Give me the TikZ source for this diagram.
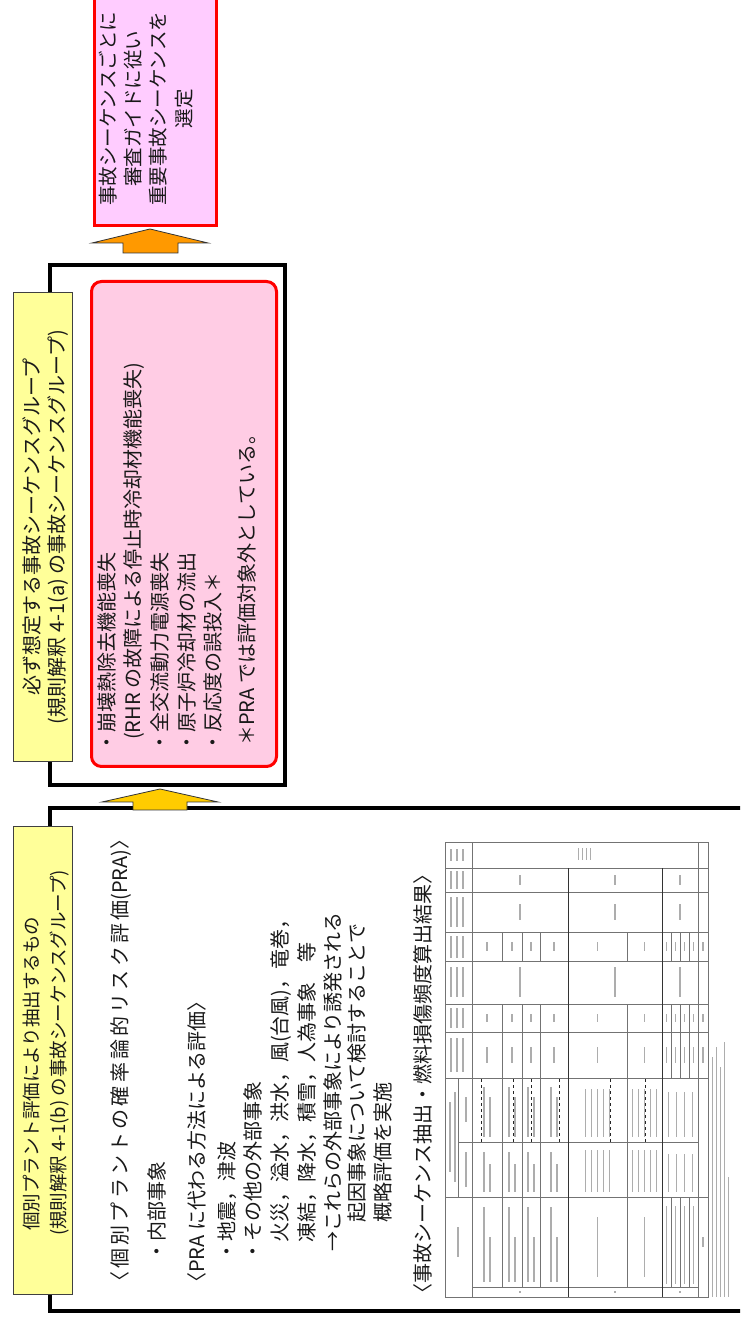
\documentclass[tikz,border=0pt]{standalone}
\usepackage{fontspec}
\setmainfont{Noto Sans CJK JP}
\definecolor{tagyellow}{RGB}{255,255,153}
\definecolor{arrowgold}{RGB}{255,204,0}
\definecolor{arroworange}{RGB}{255,153,0}
\definecolor{seqpink}{RGB}{255,204,228}
\definecolor{pickpink}{RGB}{255,204,255}

\begin{document}
\begin{tikzpicture}[x=1pt, y=1pt, rotate=90, transform shape,
    outerbox/.style={draw=black, line width=3.5pt, inner sep=0pt, anchor=north west},
    tagbox/.style={draw=black!75, line width=1.2pt, fill=tagyellow, inner sep=0pt, anchor=north west},
    redbox/.style={draw=red, line width=3pt, inner sep=0pt, anchor=north west},
    txt/.style={inner sep=0pt, anchor=base west, text=black!90, font=\fontsize{20}{24}\selectfont},
    ctxt/.style={inner sep=0pt, anchor=base, text=black!90, font=\fontsize{20}{24}\selectfont},
    blockarrow/.style={draw=black!80, line width=0.8pt, line join=miter},
    grid line/.style={draw=black!55, line width=0.6pt},
    cell text/.style={draw=black!32, line width=1.3pt}]
\useasboundingbox (0,0) rectangle (1322,-740);
\clip (0,0) rectangle (1322,-740);

% boxes
\node[outerbox, minimum width=503pt, minimum height=712pt] (lower) at (9,-48) {};
\node[tagbox, minimum width=468pt, minimum height=59pt] (lowertag) at (27,-13) {};
\node[outerbox, minimum width=520pt, minimum height=235pt] (middle) at (535,-48) {};
\node[redbox, rounded corners=10pt, fill=seqpink, minimum width=485pt, minimum height=185pt] (seqs) at (554,-90) {};
\node[tagbox, minimum width=469pt, minimum height=59pt] (middletag) at (560,-13) {};
\node[redbox, line width=2.5pt, fill=pickpink, minimum width=240pt, minimum height=122pt] (pick) at (1095,-93) {};

% block arrows
\draw[blockarrow, fill=arrowgold] (512,-133) -- (520,-133) -- (520,-102) -- (533,-160)
    -- (520,-218) -- (520,-187) -- (512,-187) -- cycle;
\draw[blockarrow, fill=arroworange] (1069,-123) -- (1079,-123) -- (1079,-92) -- (1093,-150)
    -- (1079,-208) -- (1079,-178) -- (1069,-178) -- cycle;

% labels
\node[txt, font=\fontsize{18.5}{22}\selectfont] (lowertag1) at (91,-38.7) {個別プラント評価により抽出するもの};
\node[txt, font=\fontsize{18.5}{22}\selectfont] (lowertag2) at (86,-65.3) {(規則解釈 4-1(b) の事故シーケンスグループ)};
\node[ctxt] (middletag1) at (795,-39.3) {必ず想定する事故シーケンスグループ};
\node[ctxt] (middletag2) at (795,-64.3) {(規則解釈 4-1(a) の事故シーケンスグループ)};

% lower block text
\node[txt] (pra) at (30,-127.6) {{\addfontfeature{LetterSpace=16}〈個別プラントの確率論的リスク評価}(PRA)〉};
\foreach \u/\v/\s [count=\i] in {
    60/164.6/{・内部事象},
    29/204.6/{〈PRA に代わる方法による評価〉},
    60/234.6/{・地震，津波},
    60/260.6/{・その他の外部事象},
    79/287.6/{火災，溢水，洪水，風(台風)，竜巻，},
    79/314.6/{凍結，降水，積雪，人為事象　等},
    70/340.6/{→これらの外部事象により誘発される},
    99/364.6/{起因事象について検討することで},
    99/390.6/{概略評価を実施}}
  \node[txt] (ext\i) at (\u,-\v) {\s};
\node[txt] (result) at (18,-430.6) {〈事故シーケンス抽出・燃料損傷頻度算出結果〉};

% middle block text
\foreach \u/\v/\s [count=\i] in {
    569/114.6/{・崩壊熱除去機能喪失},
    582/140.6/{(RHR の故障による停止時冷却材機能喪失)},
    569/167.6/{・全交流動力電源喪失},
    569/194.6/{・原子炉冷却材の流出},
    569/220.6/{・反応度の誤投入＊},
    576/254.6/{＊PRA では評価対象外としている。}}
  \node[txt] (seq\i) at (\u,-\v) {\s};

% upper block text
\foreach \v/\s [count=\i] in {
    115.4/{事故シーケンスごとに},
    140.4/{審査ガイドに従い},
    165.4/{重要事故シーケンスを},
    191.4/{選定}}
  \node[ctxt, font=\fontsize{19.5}{23}\selectfont] (pick\i) at (1213,-\v) {\s};

% table of results
\draw[grid line] (25,-445) rectangle (480,-708);
\foreach \u in {125,244,290,318,361,390,430,454}
  \draw[grid line] (\u,-445) -- (\u,-708);
\draw[grid line] (35,-472) -- (35,-698);
\draw[grid line] (180,-458) -- (180,-698);
\draw[grid line] (125,-458) -- (244,-458);
\foreach \v in {472,698}
  \draw[grid line] (25,-\v) -- (480,-\v);
\foreach \v in {568,662}
  \draw[grid line, draw=black!80] (25,-\v) -- (454,-\v);
\foreach \v in {502,522,540,627} {
  \draw[grid line] (35,-\v) -- (318,-\v);
  \draw[grid line] (361,-\v) -- (390,-\v);
}
\foreach \v in {671,680,689} {
  \draw[grid line] (35,-\v) -- (125,-\v);
  \draw[grid line] (244,-\v) -- (318,-\v);
  \draw[grid line] (361,-\v) -- (390,-\v);
}
\foreach \v in {481,513,531,559,610,645}
  \draw[grid line, dashed, draw=black!85, line width=0.9pt] (180,-\v) -- (244,-\v);

% illegible cell contents
\foreach \u/\w in {267/34,304/20,340/30,375/22,410/30,442/18,467/12}
  \foreach \v in {451,457,463}
    \draw[cell text] (\u-\w/2,-\v) -- ++(\w,0);
\draw[cell text] (65,-458) -- ++(30,0);
\draw[cell text] (150,-450) -- ++(70,0);
\draw[cell text] (140,-455) -- ++(90,0);
\draw[cell text] (135,-466) -- ++(35,0);
\draw[cell text] (200,-466) -- ++(25,0);
\foreach \r in {487,512,531,554,597.5,644.5,666.5,675.5,684.5,693.5,703} {
  \draw[cell text] (259,-\r) -- ++(16,0);
  \draw[cell text] (300,-\r) -- ++(8,0);
  \draw[cell text] (371,-\r) -- ++(9,0);
}
\foreach \r in {520,615,680} {
  \draw[cell text] (325,-\r) -- ++(30,0);
  \draw[cell text] (402,-\r) -- ++(16,0);
  \draw[cell text] (437,-\r) -- ++(10,0);
  \draw[cell text] (29,-\r) -- ++(2,0);
}
\foreach \r in {487,512,531,554} {
  \draw[cell text] (40,-\r+3) -- ++(75,0);
  \draw[cell text] (40,-\r-3) -- ++(45,0);
  \draw[cell text] (130,-\r+3) -- ++(40,0);
  \draw[cell text] (130,-\r-3) -- ++(28,0);
  \draw[cell text] (185,-\r+3) -- ++(50,0);
  \draw[cell text] (185,-\r-3) -- ++(40,0);
}
\foreach \r in {597.5,644.5} {
  \draw[cell text] (45,-\r) -- ++(60,0);
  \foreach \d in {-12,-6,0,6,12} {
    \draw[cell text] (130,-\r+\d) -- ++(42,0);
    \draw[cell text] (185,-\r+\d) -- ++(48,0);
  }
}
\foreach \r in {666.5,675.5,684.5,693.5}
  \draw[cell text, line width=1pt] (38,-\r) -- ++(78,0);
\foreach \r in {668,676,684,692} {
  \draw[cell text, line width=1pt] (130,-\r) -- ++(38,0);
  \draw[cell text, line width=1pt] (185,-\r) -- ++(45,0);
}
\foreach \v in {578,582,586,590}
  \draw[cell text, line width=1pt] (462,-\v) -- ++(12,0);
\draw[cell text] (75,-703) -- ++(10,0);
\foreach \v/\l in {712/240,716/250,720/230,724/255,728/120}
  \draw[cell text, line width=1pt] (25,-\v) -- ++(\l,0);
\end{tikzpicture}
\end{document}
